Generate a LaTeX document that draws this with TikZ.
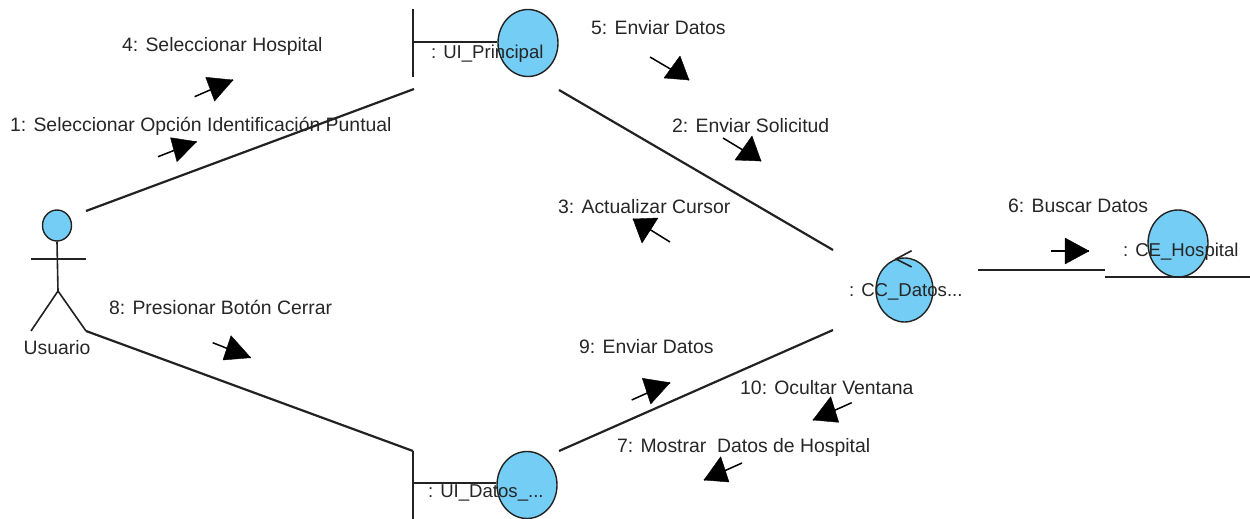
\documentclass[tikz,border=0pt]{standalone}
\usepackage{fontspec}
\setmainfont{Liberation Sans}
\usetikzlibrary{shapes.geometric}
\definecolor{lifeblue}{HTML}{74CDF4}
\definecolor{inkline}{HTML}{222222}
\definecolor{inktext}{HTML}{262626}
\tikzset{
  x=1pt,y=-1pt,
  lnk/.style={draw=inkline,line width=2.2pt},
  thinlnk/.style={draw=inkline,line width=1.6pt},
  obj/.style={ellipse,draw=inkline,line width=1.4pt,fill=lifeblue,inner sep=0pt,minimum width=60pt,minimum height=67pt},
  lbl/.style={inner sep=0pt,text=inktext,font=\fontsize{19.4}{22}\selectfont,anchor=west,yshift=-1.5pt},
  objlbl/.style={lbl,font=\fontsize{18.6}{22}\selectfont},
  stemln/.style={draw=black,line width=1.5pt},
  headfill/.style={fill=black,draw=black,line width=.4pt,line join=round}
}
% #1 stem start, #2 tip, #3 corner a, #4 corner b
\newcommand{\msgarrow}[4]{%
  \coordinate (ms) at #1; \coordinate (mt) at #2;
  \draw[stemln] (ms) -- (mt);
  \filldraw[headfill] (mt) -- #3 -- #4 -- cycle;}
\begin{document}
\begin{tikzpicture}
\useasboundingbox (0,0) rectangle (1250,519);
% boundary UI_Principal
\coordinate (bpT) at (413,9); \coordinate (bpB) at (413,77); \coordinate (bpM) at (413,42);
\node[obj] (uiP) at (528,43) {};
\draw[thinlnk] (bpT) -- (bpB);
\draw[thinlnk] (bpM) -- (uiP.west |- bpM);
\node[objlbl] (uiPl) at (431,52) {: UI\_Principal};
% boundary UI_Datos
\coordinate (bdT) at (413,451); \coordinate (bdB) at (413,519); \coordinate (bdM) at (413,483);
\node[obj] (uiD) at (527,485) {};
\draw[thinlnk] (bdT) -- (bdB);
\draw[thinlnk] (bdM) -- (uiD.west |- bdM);
\node[objlbl] (uiDl) at (428,491) {: UI\_Datos\_...};
% control
\node[obj,minimum width=57pt,minimum height=64pt] (cc) at (904.5,290) {};
\coordinate (ca) at (911.7,250.7); \coordinate (cb) at (896,259); \coordinate (cc2) at (911.7,267);
\draw[thinlnk] (ca) -- (cb) -- (cc2);
\node[objlbl] (ccl) at (849,290) {: CC\_Datos...};
% entity
\node[obj,minimum width=60pt,minimum height=67pt] (ce) at (1178,243.5) {};
\coordinate (ceL) at (1105,277); \coordinate (ceR) at (1250,277);
\draw[lnk] (ceL) -- (ceR);
\node[objlbl] (cel) at (1123,250) {: CE\_Hospital};
% actor
\node[obj,minimum width=29pt,minimum height=31pt] (head) at (57,225.5) {};
\coordinate (hip) at (58,291); \coordinate (armL) at (31,259); \coordinate (armR) at (86,259);
\coordinate (legL) at (31,331); \coordinate (legR) at (86,331);
\draw[thinlnk] (head.south) -- (hip);
\draw[thinlnk] (armL) -- (armR);
\draw[thinlnk] (legL) -- (hip) -- (legR);
\node[lbl,anchor=center] (usr) at (57,346) {Usuario};
% links
\coordinate (l1a) at (86,211); \coordinate (l1b) at (414,89);
\draw[lnk] (l1a) -- (l1b);
\coordinate (l2a) at (559,90); \coordinate (l2b) at (833,250);
\draw[lnk] (l2a) -- (l2b);
\coordinate (l3a) at (978,270); \coordinate (l3b) at (1105,270);
\draw[lnk] (l3a) -- (l3b);
\draw[lnk] (legR) -- (bdT);
\coordinate (l5a) at (559,451); \coordinate (l5b) at (833,330);
\draw[lnk] (l5a) -- (l5b);
% message labels
\node[lbl] (m4) at (122,45) {4: Seleccionar Hospital};
\node[lbl] (m1) at (10,125) {1: Seleccionar Opción Identificación Puntual};
\node[lbl] (m5) at (591,26) {5: Enviar Datos};
\node[lbl] (m2) at (672,124) {2: Enviar Solicitud};
\node[lbl] (m3) at (558,205) {3: Actualizar Cursor};
\node[lbl] (m6) at (1008,204) {6: Buscar Datos};
\node[lbl] (m8) at (109,306) {8: Presionar Botón Cerrar};
\node[lbl] (m9) at (579,345) {9: Enviar Datos};
\node[lbl] (m10) at (740,386) {10: Ocultar Ventana};
\node[lbl] (m7) at (617,446) {7: Mostrar\ \ Datos de Hospital};
% message arrows
\msgarrow{(194.6,96.7)}{(233,80)}{(205.7,77.3)}{(214.6,101)}
\msgarrow{(158,156.7)}{(196.5,141.7)}{(170.5,137.7)}{(177,161.7)}
\msgarrow{(650,57)}{(689,80)}{(664,78)}{(680,56)}
\msgarrow{(723,138)}{(761,161)}{(735,160)}{(752,136)}
\msgarrow{(670,242)}{(633,219)}{(658,218)}{(642,243)}
\msgarrow{(1051,251)}{(1089,251)}{(1065,238)}{(1065,264)}
\msgarrow{(212.7,342.7)}{(250.7,357.7)}{(231,335.7)}{(223,360)}
\msgarrow{(631.7,400)}{(670,382.7)}{(642.3,378.3)}{(650.7,404)}
\msgarrow{(851.7,402.7)}{(813,420)}{(830.7,396.7)}{(838.7,422.3)}
\msgarrow{(742,463)}{(704,480)}{(720.7,456.7)}{(729,482)}
\end{tikzpicture}
\end{document}
